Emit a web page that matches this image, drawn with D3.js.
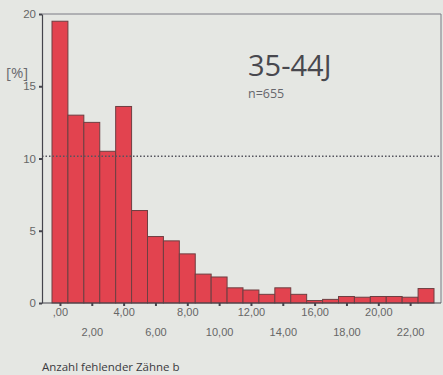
<!DOCTYPE html>
<html>
<head>
<meta charset="utf-8">
<script src="https://cdn.jsdelivr.net/npm/d3@7"></script>
<style>
  body { margin: 0; background: #e5e7e3; }
  svg { display: block; font-family: "Open Sans", "DejaVu Sans", sans-serif; }
</style>
</head>
<body>
<svg id="chart" width="443" height="375"></svg>
<script>
// number of missing teeth (0..23) and share in percent
const teeth = d3.range(0, 24);
const percent = [19.5, 13.0, 12.5, 10.5, 13.6, 6.4, 4.6, 4.3, 3.4, 2.0, 1.8, 1.05,
                 0.9, 0.6, 1.05, 0.6, 0.17, 0.25, 0.45, 0.4, 0.45, 0.45, 0.4, 1.0];
const yTicks = [0, 5, 10, 15, 20];
const xTicks = [0, 2, 4, 6, 8, 10, 12, 14, 16, 18, 20, 22];
const meanLine = 10.15;

const svg = d3.select('#chart');
const plot = {left: 42, right: 441, top: 14, bottom: 303};

const x = d3.scaleLinear().domain([-0.5, 23.5]).range([52, 434]);
const y = d3.scaleLinear().domain([0, 20]).range([plot.bottom, plot.top]);

// frame (top and right)
svg.append('path')
    .attr('d', `M${plot.left},${plot.top}H${plot.right}V${plot.bottom}`)
    .attr('fill', 'none')
    .attr('stroke', '#7a7a84')
    .attr('stroke-width', 1);

// bars
svg.append('g').selectAll('rect')
    .data(teeth)
    .join('rect')
    .attr('x', d => x(d - 0.5))
    .attr('width', x(1) - x(0))
    .attr('y', d => y(percent[d]))
    .attr('height', d => plot.bottom - y(percent[d]))
    .attr('fill', '#e2434f')
    .attr('stroke', '#6e3f42')
    .attr('stroke-width', 1);

// dotted reference line
svg.append('line')
    .attr('x1', plot.left).attr('x2', plot.right)
    .attr('y1', y(meanLine)).attr('y2', y(meanLine))
    .attr('stroke', '#55555e')
    .attr('stroke-width', 1.5)
    .attr('stroke-dasharray', '1.5,2');

// y axis
const yAxis = d3.axisLeft(y).tickValues(yTicks).tickSize(3).tickSizeOuter(0);
const yG = svg.append('g').attr('transform', `translate(${plot.left},0)`).call(yAxis);
yG.select('.domain').attr('stroke', '#44444c').attr('stroke-width', 1.2);
yG.selectAll('.tick line').attr('stroke', '#44444c').attr('stroke-width', 2);
yG.selectAll('.tick text').attr('fill', '#666').attr('font-size', 11.5).attr('x', -6);

// x axis
const xAxis = d3.axisBottom(x).tickValues(xTicks).tickSize(3)
    .tickFormat(d => (d === 0 ? '' : d) + ',00');
const xG = svg.append('g').attr('transform', `translate(0,${plot.bottom})`).call(xAxis);
xG.select('.domain').attr('d', `M${plot.left},0H${plot.right}`).attr('stroke', '#44444c').attr('stroke-width', 1.2);
xG.selectAll('.tick line').attr('stroke', '#44444c').attr('stroke-width', 2);
xG.selectAll('.tick text')
    .attr('fill', '#666')
    .attr('font-size', 11)
    .attr('y', (d, i) => i % 2 === 0 ? 5 : 25);

// labels
svg.append('text').attr('x', 6).attr('y', 78)
    .attr('font-size', 15).attr('fill', '#6a6a70').text('[%]');
svg.append('text').attr('x', 248).attr('y', 76)
    .attr('font-size', 29).attr('fill', '#48484e').text('35-44J');
svg.append('text').attr('x', 248).attr('y', 98)
    .attr('font-size', 12.5).attr('fill', '#66666c').text('n=655');
svg.append('text').attr('x', 42).attr('y', 371)
    .attr('font-size', 11.5).attr('fill', '#3a3a40').text('Anzahl fehlender Zähne b');
</script>
</body>
</html>
